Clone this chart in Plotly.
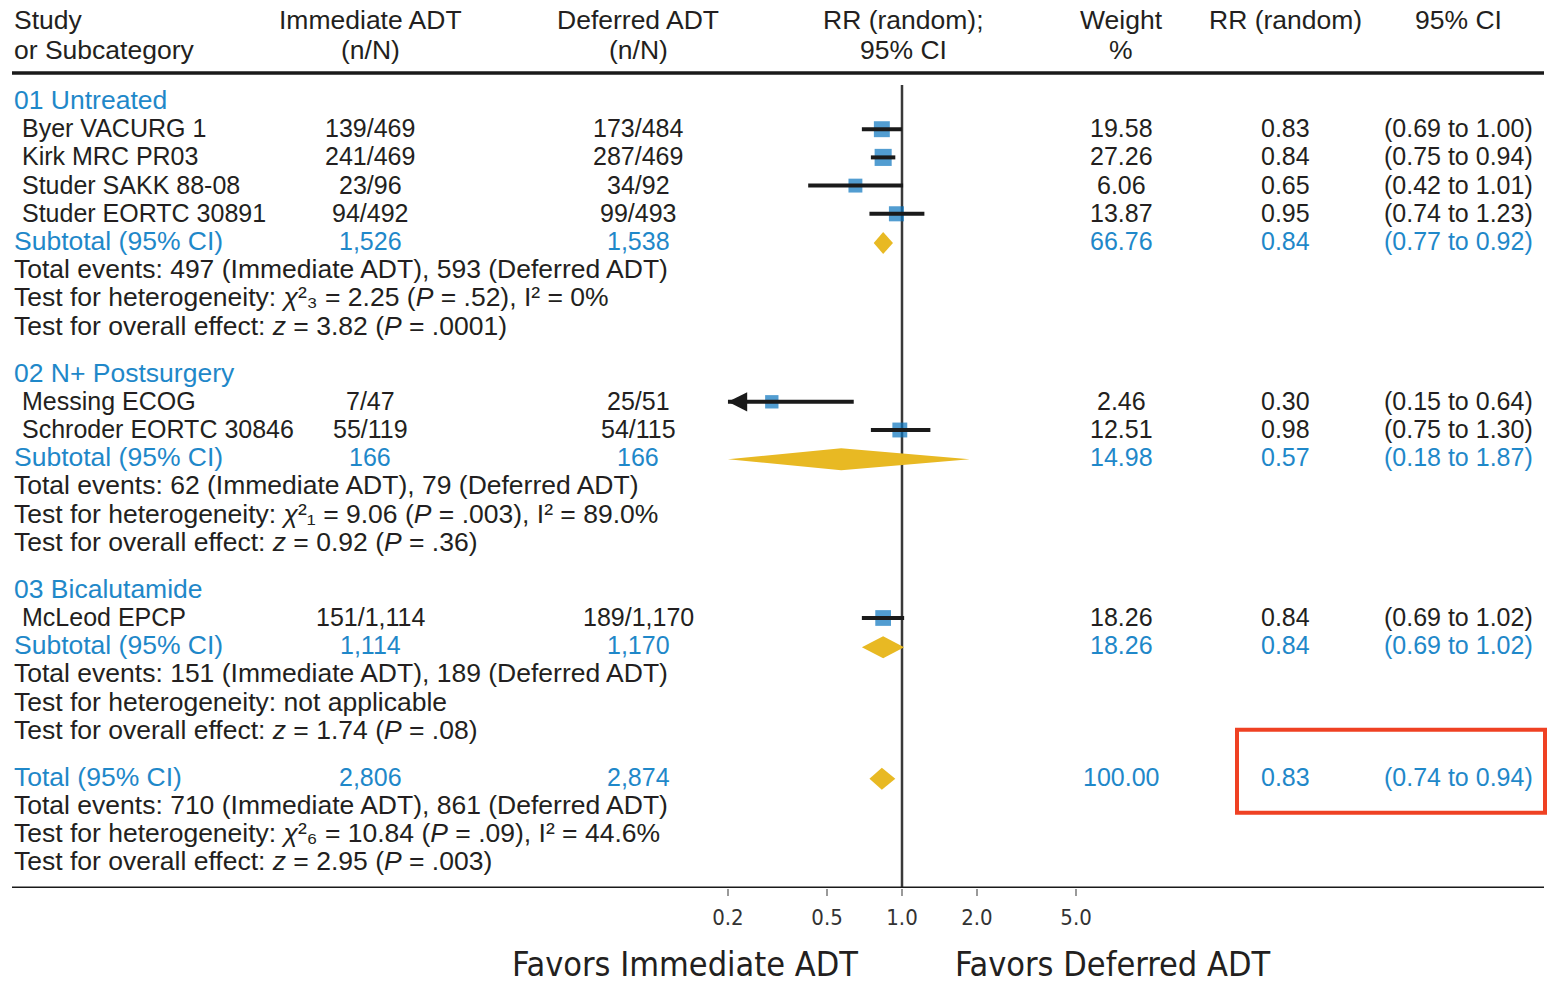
import numpy as np
import plotly.graph_objects as go

W, H = 1548, 984

# ---------------- data ----------------
group_names = ["01 Untreated", "02 N+ Postsurgery", "03 Bicalutamide"]
study_names = [
    ["Byer VACURG 1", "Kirk MRC PR03", "Studer SAKK 88-08", "Studer EORTC 30891"],
    ["Messing ECOG", "Schroder EORTC 30846"],
    ["McLeod EPCP"],
]
immediate_nN = [["139/469", "241/469", "23/96", "94/492"], ["7/47", "55/119"], ["151/1,114"]]
deferred_nN = [["173/484", "287/469", "34/92", "99/493"], ["25/51", "54/115"], ["189/1,170"]]
study_weight = [[19.58, 27.26, 6.06, 13.87], [2.46, 12.51], [18.26]]
study_rr = [[0.83, 0.84, 0.65, 0.95], [0.30, 0.98], [0.84]]
study_lo = [[0.69, 0.75, 0.42, 0.74], [0.15, 0.75], [0.69]]
study_hi = [[1.00, 0.94, 1.01, 1.23], [0.64, 1.30], [1.02]]

sub_immediate_N = ["1,526", "166", "1,114"]
sub_deferred_N = ["1,538", "166", "1,170"]
sub_weight = [66.76, 14.98, 18.26]
sub_rr = [0.84, 0.57, 0.84]
sub_lo = [0.77, 0.18, 0.69]
sub_hi = [0.92, 1.87, 1.02]

sub_notes = [
    ["Total events: 497 (Immediate ADT), 593 (Deferred ADT)",
     "Test for heterogeneity: <i>χ</i>²₃ = 2.25 (<i>P</i> = .52), I² = 0%",
     "Test for overall effect: <i>z</i> = 3.82 (<i>P</i> = .0001)"],
    ["Total events: 62 (Immediate ADT), 79 (Deferred ADT)",
     "Test for heterogeneity: <i>χ</i>²₁ = 9.06 (<i>P</i> = .003), I² = 89.0%",
     "Test for overall effect: <i>z</i> = 0.92 (<i>P</i> = .36)"],
    ["Total events: 151 (Immediate ADT), 189 (Deferred ADT)",
     "Test for heterogeneity: not applicable",
     "Test for overall effect: <i>z</i> = 1.74 (<i>P</i> = .08)"],
]

total_immediate_N = "2,806"
total_deferred_N = "2,874"
total_weight = 100.00
total_rr = 0.83
total_lo = 0.74
total_hi = 0.94
total_notes = [
    "Total events: 710 (Immediate ADT), 861 (Deferred ADT)",
    "Test for heterogeneity: <i>χ</i>²₆ = 10.84 (<i>P</i> = .09), I² = 44.6%",
    "Test for overall effect: <i>z</i> = 2.95 (<i>P</i> = .003)",
]

tick_values = [0.2, 0.5, 1.0, 2.0, 5.0]
tick_labels = ["0.2", "0.5", "1.0", "2.0", "5.0"]

# ---------------- styling / layout constants ----------------
FONT = "Liberation Sans, Arial, sans-serif"
NARROW = "DejaVu Sans Condensed, Liberation Sans Narrow, sans-serif"
BLACK = "#231f20"
BLUE = "#1f88c9"
SQUARE = "#0874bd"
GOLD = "#e8b923"
RED = "#ef4123"
FS = 25          # table cells
FS_NOTE = 26.5   # summary text lines
FS_HEAD = 26.5   # column headers

X_PLOT_MIN = 0.2          # left edge of the drawn RR scale
PX_PER_DECADE = 249.0
X_ONE_PX = 902.0          # pixel of RR = 1
AXIS_Y = 888              # pixel row of the RR axis
TOP_RULE_Y = 73

COL_NAME = 12
COL_STUDY = 20
COL_IMM = 370
COL_DEF = 638
COL_FOREST = 903
COL_W = 1121
COL_RR = 1285
COL_CI = 1458

ROW = 28.2
GAP = 47.0
FIRST_ROW = 100.0
DIAMOND_HALF = 11.0


def xp(px):
    return px / W


def yp(px):
    return 1 - px / H


fig = go.Figure()
annotations = []


def txt(x_px, y, text, anchor="left", color=BLACK, size=FS, family=FONT, yref="y"):
    annotations.append(dict(
        x=xp(x_px), xref="paper", y=y, yref=yref, text=text, showarrow=False,
        xanchor=anchor, yanchor="middle", font=dict(family=family, size=size, color=color),
    ))


def fmt_ci(lo, hi):
    return f"({lo:.2f} to {hi:.2f})"


# ---------------- rows ----------------
y = FIRST_ROW
sq_x, sq_y, sq_size = [], [], []
ci_x, ci_y = [], []
arrows = []
diamonds = []

for g in range(len(group_names)):
    txt(COL_NAME, y, group_names[g], color=BLUE, size=FS_NOTE)
    y += ROW
    for s in range(len(study_names[g])):
        txt(COL_STUDY, y, study_names[g][s])
        txt(COL_IMM, y, immediate_nN[g][s], "center")
        txt(COL_DEF, y, deferred_nN[g][s], "center")
        txt(COL_W, y, f"{study_weight[g][s]:.2f}", "center")
        txt(COL_RR, y, f"{study_rr[g][s]:.2f}", "center")
        txt(COL_CI, y, fmt_ci(study_lo[g][s], study_hi[g][s]), "center")
        w = study_weight[g][s]
        sq_x.append(study_rr[g][s])
        sq_y.append(y + 1)
        sq_size.append(13 + 0.15 * w)
        lo = max(study_lo[g][s], X_PLOT_MIN)
        ci_x += [lo, study_hi[g][s], None]
        ci_y += [y + 1, y + 1, None]
        if study_lo[g][s] < X_PLOT_MIN:
            arrows.append(y + 1)
        y += ROW
    # subtotal row
    txt(COL_NAME, y, "Subtotal (95% CI)", color=BLUE, size=FS_NOTE)
    txt(COL_IMM, y, sub_immediate_N[g], "center", BLUE)
    txt(COL_DEF, y, sub_deferred_N[g], "center", BLUE)
    txt(COL_W, y, f"{sub_weight[g]:.2f}", "center", BLUE)
    txt(COL_RR, y, f"{sub_rr[g]:.2f}", "center", BLUE)
    txt(COL_CI, y, fmt_ci(sub_lo[g], sub_hi[g]), "center", BLUE)
    diamonds.append((sub_lo[g], sub_rr[g], sub_hi[g], y + 2))
    y += ROW
    for note in sub_notes[g]:
        txt(COL_NAME, y, note, size=FS_NOTE)
        y += ROW
    y += GAP - ROW

# overall total
txt(COL_NAME, y, "Total (95% CI)", color=BLUE, size=FS_NOTE)
txt(COL_IMM, y, total_immediate_N, "center", BLUE)
txt(COL_DEF, y, total_deferred_N, "center", BLUE)
txt(COL_W, y, f"{total_weight:.2f}", "center", BLUE)
txt(COL_RR, y, f"{total_rr:.2f}", "center", BLUE)
txt(COL_CI, y, fmt_ci(total_lo, total_hi), "center", BLUE)
diamonds.append((total_lo, total_rr, total_hi, y + 2))
total_row_y = y
y += ROW
for note in total_notes:
    txt(COL_NAME, y, note, size=FS_NOTE)
    y += ROW

# ---------------- column headers ----------------
txt(COL_NAME, 20, "Study", size=FS_HEAD)
txt(COL_NAME, 50, "or Subcategory", size=FS_HEAD)
txt(COL_IMM, 20, "Immediate ADT", "center", size=FS_HEAD)
txt(COL_IMM, 50, "(n/N)", "center", size=FS_HEAD)
txt(COL_DEF, 20, "Deferred ADT", "center", size=FS_HEAD)
txt(COL_DEF, 50, "(n/N)", "center", size=FS_HEAD)
txt(COL_FOREST, 20, "RR (random);", "center", size=FS_HEAD)
txt(COL_FOREST, 50, "95% CI", "center", size=FS_HEAD)
txt(COL_W, 20, "Weight", "center", size=FS_HEAD)
txt(COL_W, 50, "%", "center", size=FS_HEAD)
txt(COL_RR, 20, "RR (random)", "center", size=FS_HEAD)
txt(COL_CI, 20, "95% CI", "center", size=FS_HEAD)

# axis direction labels
txt(685, yp(964), "Favors Immediate ADT", "center", BLACK, 34, NARROW, yref="paper")
txt(1112, yp(964), "Favors Deferred ADT", "center", BLACK, 34, NARROW, yref="paper")

# ---------------- forest marks ----------------
# line of no effect
fig.add_trace(go.Scatter(x=[1.0, 1.0], y=[85, AXIS_Y], mode="lines",
                         line=dict(color="#3a3a3a", width=2.5), hoverinfo="skip"))

# pooled-estimate diamonds
for lo, est, hi, yy in diamonds:
    lo_c = max(lo, X_PLOT_MIN)
    fig.add_trace(go.Scatter(
        x=[lo_c, est, hi, est, lo_c], y=[yy, yy - DIAMOND_HALF, yy, yy + DIAMOND_HALF, yy],
        mode="lines", fill="toself", fillcolor=GOLD, line=dict(width=0, color=GOLD),
        hoverinfo="skip"))

# study estimate squares
fig.add_trace(go.Scatter(x=sq_x, y=sq_y, mode="markers",
                         marker=dict(symbol="square", size=sq_size, color=SQUARE, line=dict(width=0)),
                         hoverinfo="skip"))

# confidence intervals (drawn over the squares)
fig.add_trace(go.Scatter(x=ci_x, y=ci_y, mode="lines",
                         line=dict(color="#1a1a1a", width=4), hoverinfo="skip"))

for ay in arrows:
    annotations.append(dict(
        x=np.log10(X_PLOT_MIN), y=ay, xref="x", yref="y",
        ax=np.log10(X_PLOT_MIN) + 0.08, ay=ay, axref="x", ayref="y",
        text="", showarrow=True, arrowhead=2, arrowsize=1.1, arrowwidth=3.5,
        arrowcolor="#1a1a1a", standoff=0, startstandoff=0,
    ))

# ---------------- rules and highlight box ----------------
shapes = [
    dict(type="line", xref="paper", yref="y", x0=xp(12), x1=xp(1544), y0=TOP_RULE_Y, y1=TOP_RULE_Y,
         line=dict(color="#1a1a1a", width=3.5)),
    dict(type="line", xref="paper", yref="y", x0=xp(12), x1=xp(1544), y0=AXIS_Y, y1=AXIS_Y,
         line=dict(color="#1a1a1a", width=3)),
    dict(type="rect", xref="paper", yref="y", x0=xp(1237), x1=xp(1545),
         y0=total_row_y - 47, y1=total_row_y + 36, line=dict(color=RED, width=4)),
]

x_lo = -X_ONE_PX / PX_PER_DECADE
x_hi = (W - X_ONE_PX) / PX_PER_DECADE

fig.update_layout(
    width=W, height=H,
    margin=dict(l=0, r=0, t=0, b=0),
    paper_bgcolor="white", plot_bgcolor="white",
    showlegend=False,
    annotations=annotations,
    shapes=shapes,
    xaxis=dict(type="log", range=[x_lo, x_hi], domain=[0, 1],
               showgrid=False, zeroline=False, showline=False,
               tickvals=tick_values, ticktext=tick_labels,
               ticks="outside", ticklen=7, tickwidth=2, tickcolor="#9a9a9a",
               ticklabelstandoff=3,
               tickfont=dict(family=NARROW, size=22, color="#333333")),
    yaxis=dict(range=[AXIS_Y, 0], domain=[1 - AXIS_Y / H, 1], visible=False,
               showgrid=False, zeroline=False),
)

fig.write_html("out.html")
